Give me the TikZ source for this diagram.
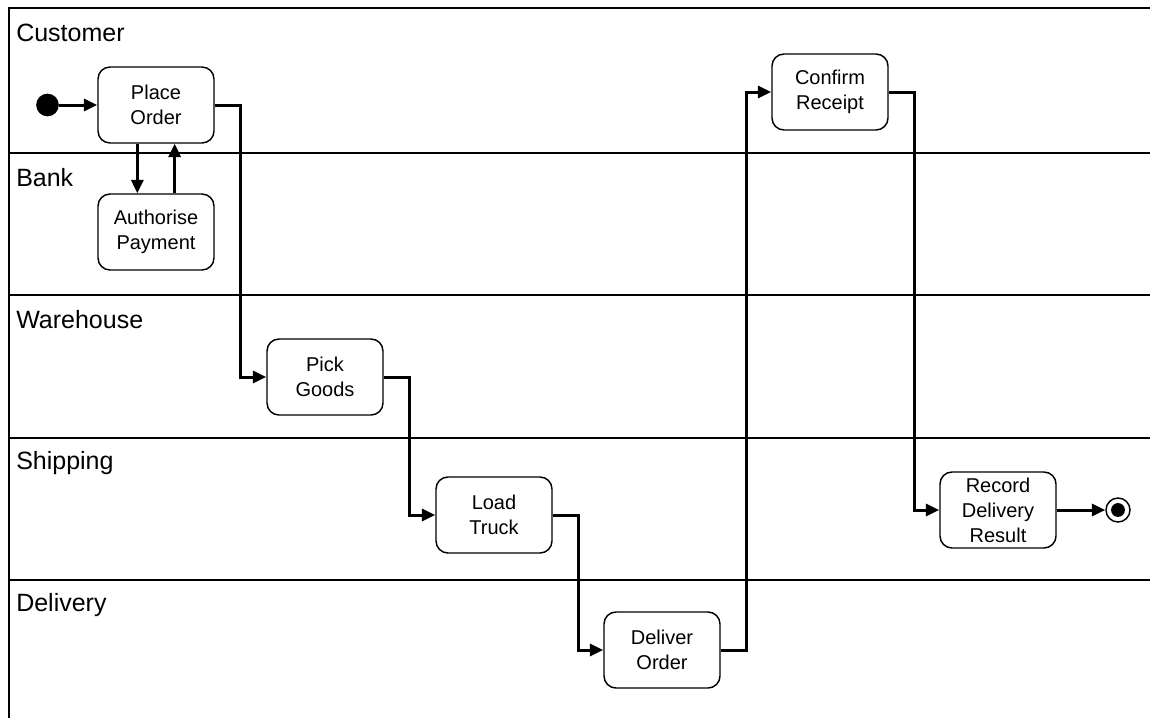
\documentclass[tikz,border=0pt]{standalone}
\usepackage{fontspec}
\setmainfont{Liberation Sans}
\usetikzlibrary{arrows.meta,calc}

\tikzset{
  lane/.style={line width=1.2pt},
  lanelabel/.style={anchor=west, inner sep=0pt, font=\fontsize{18.75}{22}\selectfont},
  activity/.style={draw, line width=1.1pt, rounded corners=9pt,
    minimum width=87pt, minimum height=57pt, align=center, inner sep=0pt,
    font=\fontsize{15}{18.75}\selectfont},
  flow/.style={line width=2.25pt,
    -{Triangle[length=10pt,width=9pt]}, shorten >=0pt},
  initstate/.style={circle, fill=black, minimum size=17pt, inner sep=0pt},
  finalstate/.style={circle, draw, line width=1.1pt, minimum size=18pt, inner sep=0pt,
    path picture={\fill[black] (path picture bounding box.center) circle (5.2pt);}},
}

\begin{document}
\begin{tikzpicture}[x=0.75pt, y=-0.75pt]
  \useasboundingbox (0,0) rectangle (1150,718);

  % swimlane frame
  \draw[lane] (1150,8) -- (9,8) -- (9,718);
  \foreach \yy in {153,295,438,580}
    \draw[lane] (9,\yy) -- (1150,\yy);

  % lane titles
  \node[lanelabel] (lCustomer)  at (16,33)  {Customer};
  \node[lanelabel] (lBank)      at (16,178) {Bank};
  \node[lanelabel] (lWarehouse) at (16,320) {Warehouse};
  \node[lanelabel] (lShipping)  at (16,463) {Shipping};
  \node[lanelabel] (lDelivery)  at (16,605) {Delivery};

  % activities
  \node[initstate] (start) at (47.5,105) {};
  \node[activity] (PO) at (156,105) {Place\\Order};
  \node[activity] (AP) at (156,232) {Authorise\\Payment};
  \node[activity] (PG) at (325,377) {Pick\\Goods};
  \node[activity] (LT) at (494,515) {Load\\Truck};
  \node[activity] (DO) at (662,650) {Deliver\\Order};
  \node[activity] (CR) at (830,92)  {Confirm\\Receipt};
  \node[activity] (RD) at (998,510) {Record\\Delivery\\Result};
  \node[finalstate] (stop) at (1118,510) {};

  % control flow
  \draw[flow] (start) -- (start -| PO.west);
  \draw[flow] ([xshift=-14pt]PO.south) -- ([xshift=-14pt]AP.north);
  \draw[flow] ([xshift=14pt]AP.north) -- ([xshift=14pt]PO.south);
  \draw[flow] (PO.east) -| ($(PO.east)!0.5!(PG.west)$) |- (PG.west);
  \draw[flow] (PG.east) -| ($(PG.east)!0.5!(LT.west)$) |- (LT.west);
  \draw[flow] (LT.east) -| ($(LT.east)!0.5!(DO.west)$) |- (DO.west);
  \draw[flow] (DO.east) -| ($(DO.east)!0.5!(CR.west)$) |- (CR.west);
  \draw[flow] (CR.east) -| ($(CR.east)!0.5!(RD.west)$) |- (RD.west);
  \draw[flow] (RD.east) -- (stop);
\end{tikzpicture}
\end{document}
